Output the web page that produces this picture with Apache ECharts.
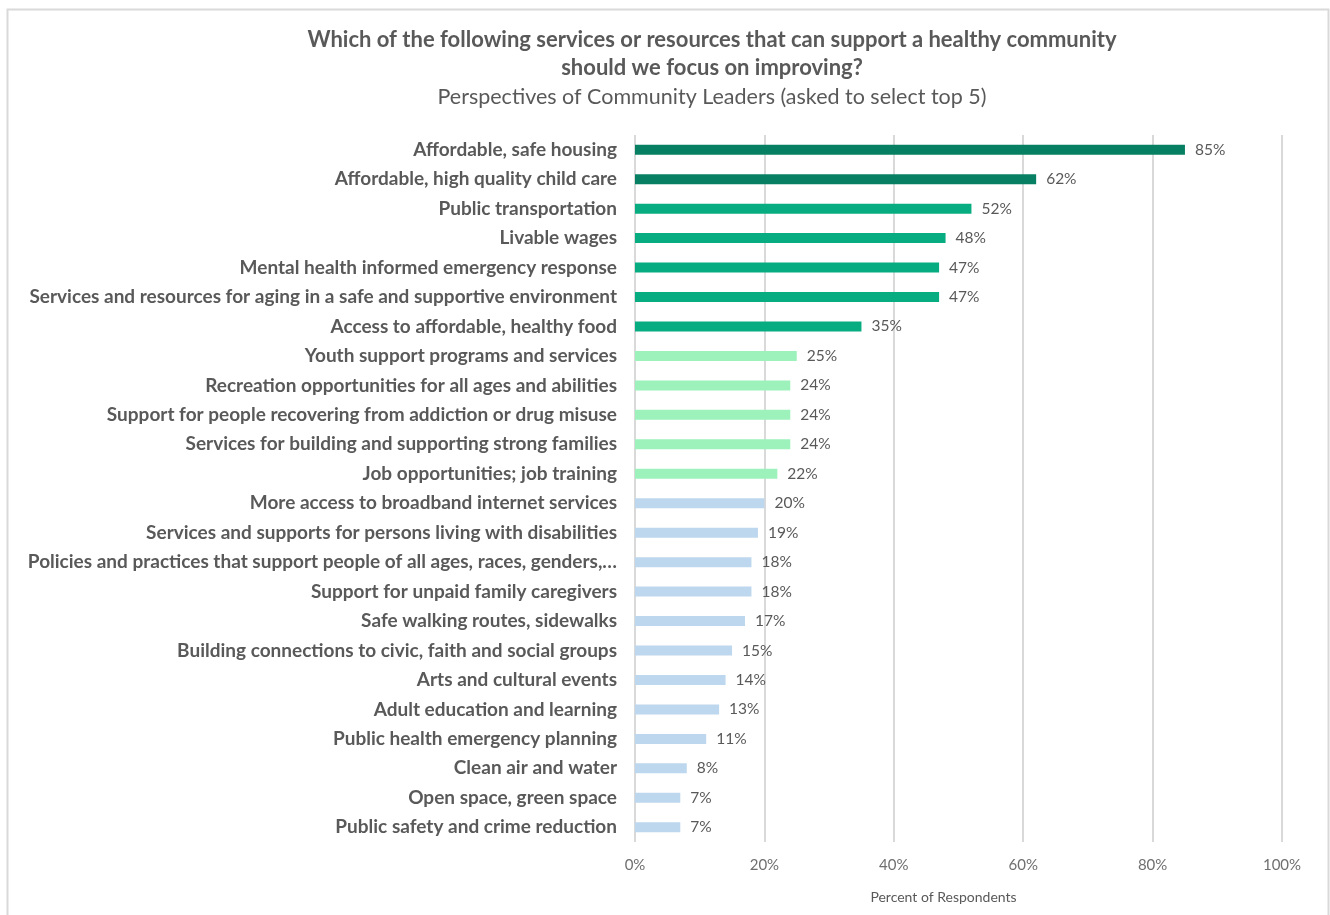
<!DOCTYPE html>
<html>
<head>
<meta charset="utf-8">
<script src="https://cdn.jsdelivr.net/npm/echarts@6/dist/echarts.min.js"></script>
<style>
  html, body { margin: 0; padding: 0; background: #ffffff; }
  #chart { width: 1330px; height: 915px; }
</style>
</head>
<body>
<div id="chart"></div>
<script>
// Services / resources, listed top to bottom
const categories = [
  'Affordable, safe housing',
  'Affordable, high quality child care',
  'Public transportation',
  'Livable wages',
  'Mental health informed emergency response',
  'Services and resources for aging in a safe and supportive environment',
  'Access to affordable, healthy food',
  'Youth support programs and services',
  'Recreation opportunities for all ages and abilities',
  'Support for people recovering from addiction or drug misuse',
  'Services for building and supporting strong families',
  'Job opportunities; job training',
  'More access to broadband internet services',
  'Services and supports for persons living with disabilities',
  'Policies and practices that support people of all ages, races, genders,…',
  'Support for unpaid family caregivers',
  'Safe walking routes, sidewalks',
  'Building connections to civic, faith and social groups',
  'Arts and cultural events',
  'Adult education and learning',
  'Public health emergency planning',
  'Clean air and water',
  'Open space, green space',
  'Public safety and crime reduction'
];

// Percent of respondents selecting each item
const percents = [85, 62, 52, 48, 47, 47, 35, 25, 24, 24, 24, 22, 20, 19, 18, 18, 17, 15, 14, 13, 11, 8, 7, 7];

// Priority tier of each item (0 = highest)
const tiers = [0, 0, 1, 1, 1, 1, 1, 2, 2, 2, 2, 2, 3, 3, 3, 3, 3, 3, 3, 3, 3, 3, 3, 3];

// Axis tick values (percent)
const xTicks = [0, 20, 40, 60, 80, 100];

const tierColors = ['#077F62', '#07AD80', '#9DF2BC', '#BDD7EE'];
const FONT = 'Lato, "Open Sans", sans-serif';
const TEXT = '#595959';

const chart = echarts.init(document.getElementById('chart'), null, { renderer: 'canvas' });

chart.setOption({
  backgroundColor: '#ffffff',
  animation: false,
  title: {
    text: 'Which of the following services or resources that can support a healthy community\nshould we focus on improving?',
    subtext: 'Perspectives of Community Leaders (asked to select top 5)',
    left: 707,
    top: 21,
    textAlign: 'center',
    itemGap: 1,
    textStyle: { fontFamily: FONT, fontSize: 22, fontWeight: 'bold', color: TEXT, lineHeight: 28 },
    subtextStyle: { fontFamily: FONT, fontSize: 21.5, color: TEXT, lineHeight: 28 }
  },
  graphic: [{
    type: 'rect',
    shape: { x: 7.5, y: 9.5, width: 1321, height: 920 },
    style: { fill: 'none', stroke: '#d9d9d9', lineWidth: 2 },
    silent: true,
    z: -1
  }],
  grid: { left: 635, right: 48, top: 135, bottom: 73, containLabel: false },
  xAxis: {
    type: 'value',
    min: xTicks[0],
    max: xTicks[xTicks.length - 1],
    interval: xTicks[1] - xTicks[0],
    name: 'Percent of Respondents',
    nameLocation: 'middle',
    nameGap: 48,
    nameTextStyle: { fontFamily: FONT, fontSize: 14, color: TEXT, padding: [0, 30, 0, 0] },
    axisLine: { show: false },
    axisTick: { show: false },
    axisLabel: {
      formatter: '{value}%',
      margin: 16,
      fontFamily: FONT,
      fontSize: 15,
      color: '#6f6f6f'
    },
    splitLine: { show: true, lineStyle: { color: '#d9d9d9', width: 2 } }
  },
  yAxis: {
    type: 'category',
    data: categories,
    inverse: true,
    axisLine: { show: false },
    axisTick: { show: false },
    axisLabel: {
      margin: 18,
      fontFamily: FONT,
      fontSize: 19,
      fontWeight: 'bold',
      color: TEXT
    },
    splitLine: { show: false }
  },
  series: [{
    type: 'bar',
    barWidth: 10,
    data: percents.map((v, i) => ({
      value: v,
      itemStyle: { color: tierColors[tiers[i]] }
    })),
    label: {
      show: true,
      position: 'right',
      distance: 10,
      formatter: '{c}%',
      fontFamily: FONT,
      fontSize: 15.5,
      color: TEXT
    }
  }]
});
</script>
</body>
</html>
